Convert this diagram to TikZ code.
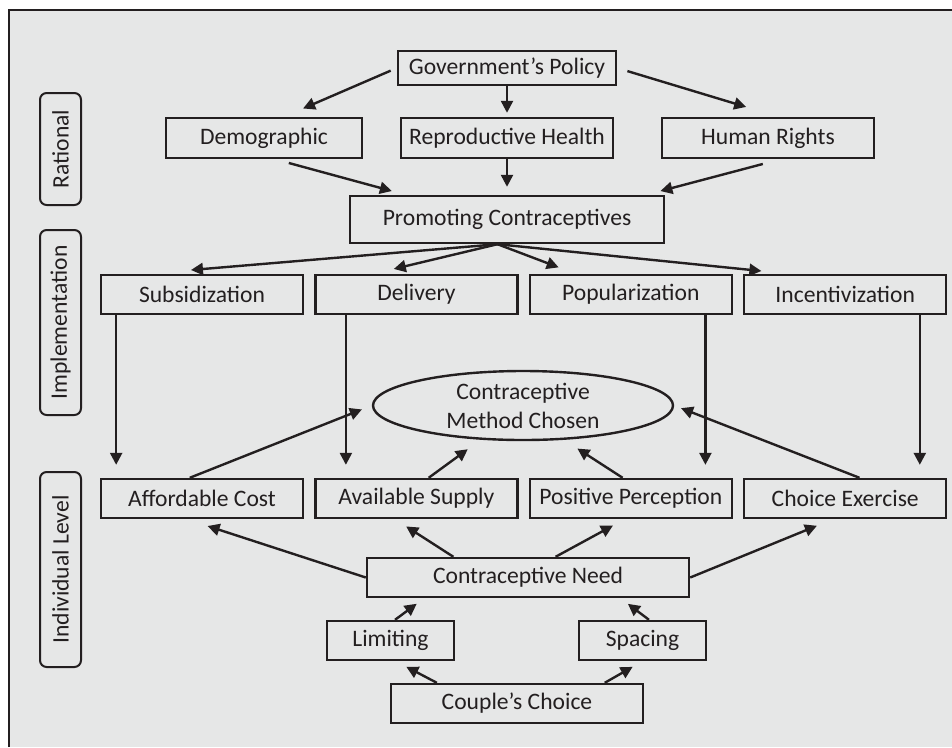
\documentclass[tikz,border=0pt]{standalone}
\usepackage{fontspec}
\setmainfont{Carlito}
\usepackage{tikz}
\usetikzlibrary{shapes.geometric,arrows.meta,positioning,calc}
\definecolor{inkgray}{RGB}{35,31,32}
\definecolor{panelgray}{RGB}{230,231,231}

\begin{document}
\begin{tikzpicture}[x=0.75pt, y=-0.75pt, font=\fontsize{17.7}{21.7}\selectfont, color=inkgray,
  box/.style={draw, line width=1.8pt, align=center, inner sep=2pt, minimum width=151.5pt, minimum height=29.25pt},
  tag/.style={draw, line width=1.5pt, rounded corners=5pt, rotate=90, inner sep=2pt, minimum height=30.75pt},
  arr/.style={-{Triangle[length=9pt,width=9pt]}, line width=1.8pt}]
\useasboundingbox (0,0) rectangle (952,747);
\fill[panelgray] (9,10) rectangle (952,747);
\draw[line width=2.2pt] (9,747) -- (9,10) -- (952,10);

\node[tag, minimum width=84pt] (rat) at (60.5,149) {Rational};
\node[tag, minimum width=138.75pt] (impl) at (60.5,322.5) {Implementation};
\node[tag, minimum width=146.25pt] (indiv) at (60.5,569.5) {Individual Level};

\node[box, minimum width=163.5pt, minimum height=25.5pt] (gov) at (507,68) {Government's Policy};
\node[box, minimum width=147pt, minimum height=30pt] (demo) at (264,138) {Demographic};
\node[box, minimum width=159pt, minimum height=30pt] (repro) at (507,138) {Reproductive Health};
\node[box, minimum width=159pt, minimum height=30pt] (rights) at (768,138) {Human Rights};
\node[box, minimum width=235.5pt, minimum height=35.25pt] (promo) at (507,219.5) {Promoting Contraceptives};
\coordinate (fan) at ($(promo.south west)!.47!(promo.south east)$);

\node[box] (subs) at (202,294.5) {Subsidization};
\node[box, right=7.5pt of subs] (deliv) {Delivery};
\node[box, right=7.5pt of deliv] (popul) {Popularization};
\node[box, right=7.5pt of popul] (incent) {Incentivization};

\node[draw, ellipse, line width=1.8pt, align=center, inner xsep=0pt, inner ysep=-3pt, minimum width=225pt, minimum height=51.75pt] (method) at (523,405.5) {Contraceptive\\Method Chosen};

\node[box] (afford) at (202,498.5) {Affordable Cost};
\node[box, right=7.5pt of afford] (avail) {Available Supply};
\node[box, right=7.5pt of avail] (posit) {Positive Perception};
\node[box, right=7.5pt of posit] (choice) {Choice Exercise};

\node[box, minimum width=241.5pt] (need) at (528,577.5) {Contraceptive Need};
\node[box, minimum width=95.25pt] (limit) at (390.5,640.5) {Limiting};
\node[box, minimum width=95.25pt] (space) at (642.5,640.5) {Spacing};
\node[box, minimum width=189pt] (couple) at (517,703.5) {Couple's Choice};

% rationale layer
\draw[arr, shorten <=5pt, shorten >=15.7pt] (gov.west) -- ($(demo.north)!.2!(demo.north east)$);
\draw[arr, shorten >=3pt] (gov.south) -- (repro.north);
\draw[arr, shorten <=8pt, shorten >=25.5pt] (gov.east) -- ($(rights.north)!.1!(rights.north east)$);
\draw[arr, shorten <=10.8pt, shorten >=10.8pt] ($(demo.south)!.11!(demo.south east)$) -- ($(promo.north west)!.36!(promo.north)$);
\draw[arr, shorten >=6pt] (repro.south) -- (promo.north);
\draw[arr, shorten <=14pt, shorten >=11pt] ($(rights.south)!.12!(rights.south east)$) -- ($(promo.north)!.88!(promo.north east)$);

% implementation layer
\draw[arr, shorten >=34pt] (fan) -- ($(subs.north west)!.45!(subs.north)$);
\draw[arr, shorten >=15.7pt] (fan) -- ($(deliv.north)!.42!(deliv.north west)$);
\draw[arr, shorten >=13.6pt] (fan) -- ($(popul.north west)!.46!(popul.north)$);
\draw[arr, shorten >=20.8pt] (fan) -- ($(incent.north west)!.45!(incent.north)$);
\draw[arr, shorten >=9.75pt] ($(subs.south west)!.16!(subs.south)$) -- ($(afford.north west)!.16!(afford.north)$);
\draw[arr, shorten >=9.75pt] ($(deliv.south west)!.31!(deliv.south)$) -- ($(avail.north west)!.31!(avail.north)$);
\draw[arr, shorten >=9.75pt] ($(popul.south)!.73!(popul.south east)$) -- ($(posit.north)!.73!(posit.north east)$);
\draw[arr, shorten >=9.75pt] ($(incent.south)!.73!(incent.south east)$) -- ($(choice.north)!.73!(choice.north east)$);

% individual level
\draw[arr, shorten >=8pt] ($(afford.north west)!.88!(afford.north)$) -- (method.west);
\draw[arr, shorten >=12pt] ($(avail.north)!.12!(avail.north east)$) -- (method.219);
\draw[arr, shorten >=12pt] ($(posit.north)!.08!(posit.north west)$) -- (method.320);
\draw[arr, shorten >=5.5pt] ($(choice.north)!.14!(choice.north east)$) -- (method.east);
\draw[arr, shorten >=16.5pt] (need.west) -- ($(afford.south)!.15!(afford.south west)$);
\draw[arr, shorten >=10pt] ($(need.north)!.46!(need.north west)$) -- ($(avail.south)!.21!(avail.south west)$);
\draw[arr, shorten >=10pt] ($(need.north)!.17!(need.north east)$) -- ($(posit.south)!.06!(posit.south west)$);
\draw[arr, shorten >=13pt] (need.east) -- ($(choice.south)!.12!(choice.south west)$);
\draw[arr, shorten >=7pt] ($(limit.north)!.07!(limit.north east)$) -- ($(need.south west)!.36!(need.south)$);
\draw[arr, shorten >=7pt] ($(space.north)!.1!(space.north east)$) -- ($(need.south)!.57!(need.south east)$);
\draw[arr, shorten >=9pt] ($(couple.north)!.63!(couple.north west)$) -- ($(limit.south)!.08!(limit.south east)$);
\draw[arr, shorten >=8.5pt] ($(couple.north)!.69!(couple.north east)$) -- (space.south);
\end{tikzpicture}
\end{document}
